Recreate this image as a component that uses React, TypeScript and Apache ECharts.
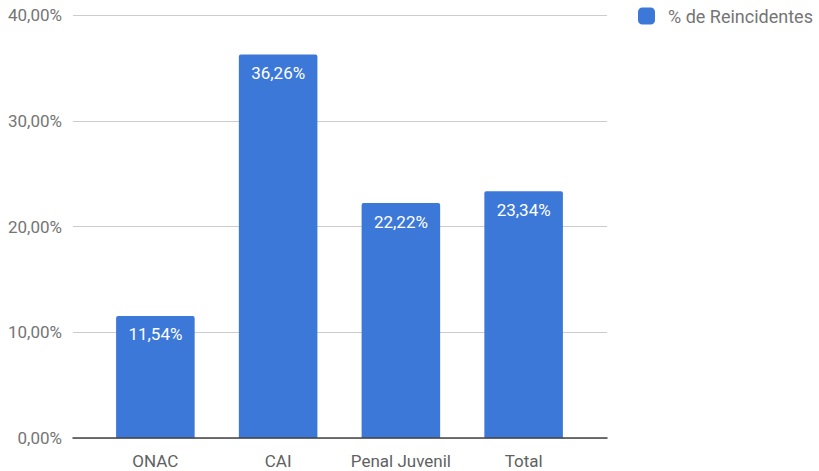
import React, { useEffect, useRef } from "react";
import * as echarts from "echarts";

const categories = ["ONAC", "CAI", "Penal Juvenil", "Total"];
const reincidentes = [11.54, 36.26, 22.22, 23.34];
const seriesName = "% de Reincidentes";
const yTicks = [0, 10, 20, 30, 40];

const fmt = (v: number) => v.toFixed(2).replace(".", ",") + "%";

export default function App() {
  const ref = useRef<HTMLDivElement>(null);
  useEffect(() => {
    const chart = echarts.init(ref.current!, undefined, { renderer: "svg" });
    chart.setOption({
      animation: false,
      textStyle: { fontFamily: "Roboto" },
      legend: {
        data: [seriesName],
        left: 638,
        top: 7,
        padding: 0,
        itemWidth: 17,
        itemHeight: 17,
        icon: "roundRect",
        textStyle: { color: "#757575", fontSize: 18, fontFamily: "Roboto", padding: [0, 0, 0, 8] },
      },
      grid: [
        { left: 73, right: 212, top: 15, bottom: 33 },
        { left: 94, right: 234, top: 15, bottom: 33 },
      ],
      xAxis: [
        {
          type: "value",
          gridIndex: 0,
          min: 0,
          max: 1,
          axisLine: { show: true, onZero: false, lineStyle: { color: "#444", width: 1.5 } },
          axisTick: { show: false },
          axisLabel: { show: false },
          splitLine: { show: false },
          z: 5,
        },
        {
          type: "category",
          gridIndex: 1,
          data: categories,
          axisLine: { show: false },
          axisTick: { show: false },
          axisLabel: { color: "#616161", fontSize: 17, margin: 14, interval: 0, fontFamily: "Roboto" },
        },
      ],
      yAxis: [
        {
          type: "value",
          gridIndex: 0,
          min: yTicks[0],
          max: yTicks[yTicks.length - 1],
          interval: 10,
          axisLine: { show: false },
          axisTick: { show: false },
          axisLabel: {
            color: "#757575",
            fontSize: 17,
            margin: 11,
            fontFamily: "Roboto",
            formatter: (v: number) => fmt(v),
          },
          splitLine: { lineStyle: { color: "#cccccc", width: 1 } },
        },
        {
          type: "value",
          gridIndex: 1,
          min: 0,
          max: 40,
          show: false,
          splitLine: { show: false },
        },
      ],
      series: [
        {
          name: seriesName,
          type: "bar",
          xAxisIndex: 1,
          yAxisIndex: 1,
          data: reincidentes,
          barWidth: "64%",
          itemStyle: { color: "#3c78d8", borderRadius: [2, 2, 0, 0] },
          label: {
            show: true,
            position: "insideTop",
            distance: 10,
            color: "#ffffff",
            fontSize: 17,
            fontFamily: "Roboto",
            formatter: (p: any) => fmt(p.value),
          },
        },
      ],
    });
    return () => chart.dispose();
  }, []);
  return <div ref={ref} style={{ width: 819, height: 471, position: "absolute", left: 0, top: 0 }} />;
}
